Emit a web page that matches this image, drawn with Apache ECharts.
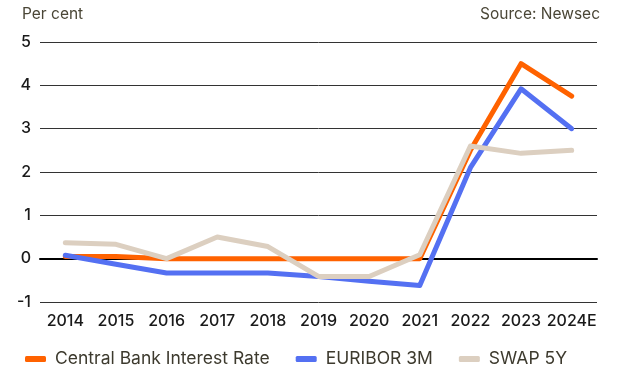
<!DOCTYPE html>
<html>
<head>
<meta charset="utf-8">
<script src="https://cdn.jsdelivr.net/npm/echarts@6/dist/echarts.min.js"></script>
<style>
  html, body { margin: 0; padding: 0; background: #fff; }
  #chart { width: 629px; height: 367px; }
</style>
</head>
<body>
<div id="chart"></div>
<script>
// Interest rates, per cent
const years = ['2014', '2015', '2016', '2017', '2018', '2019', '2020', '2021', '2022', '2023', '2024E'];
const centralBankRate = [0.05, 0.05, 0, 0, 0, 0, 0, 0, 2.5, 4.5, 3.75];
const euribor3m = [0.08, -0.13, -0.33, -0.33, -0.33, -0.41, -0.52, -0.62, 2.1, 3.92, 3.0];
const swap5y = [0.37, 0.33, 0.0, 0.5, 0.28, -0.41, -0.41, 0.09, 2.6, 2.43, 2.5];

const FONT = 'Inter, "Noto Sans", sans-serif';

const chart = echarts.init(document.getElementById('chart'), null, { renderer: 'canvas' });

function lineSeries(name, data, color, z) {
  return {
    name: name,
    type: 'line',
    data: data,
    symbol: 'none',
    z: z,
    lineStyle: { color: color, width: 5, cap: 'round', join: 'round' },
    itemStyle: { color: color },
    animation: false
  };
}

chart.setOption({
  animation: false,
  textStyle: { fontFamily: FONT },
  graphic: [
    { type: 'text', left: 22, top: 6, style: { text: 'Per cent', fontFamily: FONT, fontSize: 15.5, fill: '#4a4636' } },
    { type: 'text', right: 29, top: 6, style: { text: 'Source: Newsec', fontFamily: FONT, fontSize: 15.5, fill: '#4a4636' } }
  ],
  grid: { left: 40, right: 32, top: 42, bottom: 65 },
  legend: {
    top: 345,
    left: 20,
    icon: 'roundRect',
    itemWidth: 21,
    itemHeight: 6,
    itemGap: 26,
    textStyle: { fontFamily: FONT, fontSize: 17.5, color: '#3d3a2e', padding: [0, 0, 0, 4] },
    data: ['Central Bank Interest Rate', 'EURIBOR 3M', 'SWAP 5Y']
  },
  xAxis: {
    type: 'category',
    data: years,
    boundaryGap: true,
    axisLine: { show: true, onZero: true, lineStyle: { color: '#000', width: 2 } },
    axisTick: { show: false },
    axisLabel: { color: '#1a1a1a', fontSize: 16, fontWeight: 500, fontFamily: FONT, margin: 11, interval: 0 },
    position: 'bottom'
  },
  yAxis: {
    type: 'value',
    min: -1,
    max: 5,
    interval: 1,
    axisLine: { show: false },
    axisTick: { show: false },
    axisLabel: { color: '#1a1a1a', fontSize: 16, fontWeight: 500, fontFamily: FONT, margin: 9 },
    splitLine: { lineStyle: { color: '#333', width: 1 } }
  },
  series: [
    lineSeries('Central Bank Interest Rate', centralBankRate, '#ff6200', 2),
    lineSeries('EURIBOR 3M', euribor3m, '#5470f2', 3),
    lineSeries('SWAP 5Y', swap5y, '#dccfc0', 4)
  ]
});
</script>
</body>
</html>
